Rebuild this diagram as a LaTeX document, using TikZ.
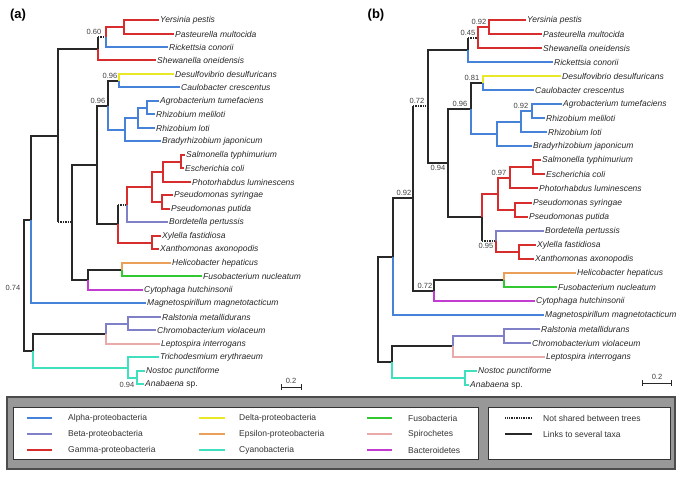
\documentclass[tikz,border=0pt]{standalone}
\usepackage{fontspec}
\setmainfont{Liberation Sans}
\usepackage{xcolor}
\usepackage{tikz}
\usetikzlibrary{positioning,calc}

\definecolor{alphacol}{RGB}{70,130,215}
\definecolor{betacol}{RGB}{128,128,200}
\definecolor{gammacol}{RGB}{215,45,45}
\definecolor{deltacol}{RGB}{232,232,40}
\definecolor{epsiloncol}{RGB}{235,160,90}
\definecolor{cyanocol}{RGB}{64,224,190}
\definecolor{fusocol}{RGB}{50,200,50}
\definecolor{spirocol}{RGB}{235,170,170}
\definecolor{bactcol}{RGB}{195,60,210}
\definecolor{linkcol}{RGB}{40,40,40}
\definecolor{boxgray}{RGB}{152,152,152}

\begin{document}
\begin{tikzpicture}[
  x=1pt, y=-1pt,
  branch/.style={line width=1.05pt},
  alphaline/.style={branch, draw=alphacol},
  betaline/.style={branch, draw=betacol},
  gammaline/.style={branch, draw=gammacol},
  deltaline/.style={branch, draw=deltacol},
  epsline/.style={branch, draw=epsiloncol},
  cyanoline/.style={branch, draw=cyanocol},
  fusoline/.style={branch, draw=fusocol},
  spiroline/.style={branch, draw=spirocol},
  bactline/.style={branch, draw=bactcol},
  several/.style={branch, draw=linkcol},
  notshared/.style={branch, draw=linkcol, dash pattern=on 1.4pt off 1pt},
  taxon/.style={anchor=west, inner sep=1pt,
    font=\fontsize{8.5}{10}\selectfont\itshape, text=black!85},
  supp/.style={inner sep=0.5pt, font=\fontsize{7.5}{9}\selectfont, text=black!75},
  panel/.style={inner sep=0pt, font=\fontsize{13}{15}\selectfont\bfseries},
  keyline/.style={line width=2pt},
  keytext/.style={anchor=west, inner sep=0pt,
    font=\fontsize{8.5}{10}\selectfont, text=black!80}
]
\useasboundingbox (0,0) rectangle (685,478);

% ---------- tree (a) ----------
\node[panel] (aPanel) at (18,15) {(a)};
\node[taxon] (aYer) at (159,20) {Yersinia pestis};
\node[taxon] (aPas) at (174,34) {Pasteurella multocida};
\node[taxon] (aRic) at (168,47) {Rickettsia conorii};
\node[taxon] (aShe) at (156,60) {Shewanella oneidensis};
\node[taxon] (aDes) at (174,74) {Desulfovibrio desulfuricans};
\node[taxon] (aCau) at (180,87) {Caulobacter crescentus};
\node[taxon] (aAgr) at (159,101) {Agrobacterium tumefaciens};
\node[taxon] (aRme) at (155,114) {Rhizobium meliloti};
\node[taxon] (aRlo) at (155,128) {Rhizobium loti};
\node[taxon] (aBra) at (161,141) {Bradyrhizobium japonicum};
\node[taxon] (aSal) at (185,155) {Salmonella typhimurium};
\node[taxon] (aEco) at (184,168) {Escherichia coli};
\node[taxon] (aPho) at (191,182) {Photorhabdus luminescens};
\node[taxon] (aPsy) at (173,195) {Pseudomonas syringae};
\node[taxon] (aPpu) at (170,209) {Pseudomonas putida};
\node[taxon] (aBor) at (168,222) {Bordetella pertussis};
\node[taxon] (aXyl) at (161,236) {Xylella fastidiosa};
\node[taxon] (aXan) at (159,249) {Xanthomonas axonopodis};
\node[taxon] (aHel) at (171,263) {Helicobacter hepaticus};
\node[taxon] (aFus) at (202,276) {Fusobacterium nucleatum};
\node[taxon] (aCyt) at (143,290) {Cytophaga hutchinsonii};
\node[taxon] (aMag) at (146,303) {Magnetospirillum magnetotacticum};
\node[taxon] (aRal) at (161,317) {Ralstonia metallidurans};
\node[taxon] (aChr) at (156,330) {Chromobacterium violaceum};
\node[taxon] (aLep) at (160,344) {Leptospira interrogans};
\node[taxon] (aTri) at (159,357) {Trichodesmium erythraeum};
\node[taxon] (aNos) at (145,371) {Nostoc punctiforme};
\node[taxon] (aAna) at (144,384) {Anabaena \textup{sp.}};

\coordinate (aG) at (124,27);
\coordinate (aF) at (106,37);
\coordinate (aD) at (98,49);
\coordinate (aJ) at (119,81);
\coordinate (aL) at (147,108);
\coordinate (aM) at (138,118);
\coordinate (aN) at (125,130);
\coordinate (aO) at (108,106);
\coordinate (aS1) at (181,162);
\coordinate (aS2) at (163,172);
\coordinate (aS3) at (162,202);
\coordinate (aS4) at (152,187);
\coordinate (aS5) at (127,205);
\coordinate (aS6) at (152,243);
\coordinate (aQ) at (118,224);
\coordinate (aP) at (97,165);
\coordinate (aT) at (122,270);
\coordinate (aI) at (88,280);
\coordinate (aE) at (72,222);
\coordinate (aC) at (58,136);
\coordinate (aA) at (31,220);
\coordinate (aW) at (128,324);
\coordinate (aU) at (106,334);
\coordinate (aX) at (137,378);
\coordinate (aV) at (128,368);
\coordinate (aB) at (33,351);
\coordinate (aR) at (24,286);

\draw[several] (aR) |- (aA);
\draw[several] (aR) |- (aB);
\draw[alphaline] (aA) |- (aMag.west);
\draw[several] (aA) |- (aC);
\draw[several] (aC) |- (aD);
\draw[several] (aC) -- (aC |- aE);
\draw[notshared] (aC |- aE) -- (aE);
\draw[gammaline] (aD) |- (aShe.west);
\draw[several] (aD) -- (aD |- aF);
\draw[notshared] (aD |- aF) -- (aF);
\draw[gammaline] (aF) |- (aG);
\draw[alphaline] (aF) |- (aRic.west);
\draw[gammaline] (aG) |- (aYer.west);
\draw[gammaline] (aG) |- (aPas.west);
\draw[several] (aE) |- (aP);
\draw[several] (aE) |- (aI);
\draw[several] (aP) |- (aO);
\draw[several] (aP) |- (aQ);
\draw[several] (aO) |- (aJ);
\draw[alphaline] (aO) |- (aN);
\draw[deltaline] (aJ) |- (aDes.west);
\draw[alphaline] (aJ) |- (aCau.west);
\draw[alphaline] (aN) |- (aM);
\draw[alphaline] (aN) |- (aBra.west);
\draw[alphaline] (aM) |- (aL);
\draw[alphaline] (aM) |- (aRlo.west);
\draw[alphaline] (aL) |- (aAgr.west);
\draw[alphaline] (aL) |- (aRme.west);
\draw[several] (aQ) -- (aQ |- aS5);
\draw[notshared] (aQ |- aS5) -- (aS5);
\draw[gammaline] (aQ) |- (aS6);
\draw[gammaline] (aS5) |- (aS4);
\draw[betaline] (aS5) |- (aBor.west);
\draw[gammaline] (aS4) |- (aS2);
\draw[gammaline] (aS4) |- (aS3);
\draw[gammaline] (aS2) |- (aS1);
\draw[gammaline] (aS2) |- (aPho.west);
\draw[gammaline] (aS1) |- (aSal.west);
\draw[gammaline] (aS1) |- (aEco.west);
\draw[gammaline] (aS3) |- (aPsy.west);
\draw[gammaline] (aS3) |- (aPpu.west);
\draw[gammaline] (aS6) |- (aXyl.west);
\draw[gammaline] (aS6) |- (aXan.west);
\draw[several] (aI) |- (aT);
\draw[bactline] (aI) |- (aCyt.west);
\draw[epsline] (aT) |- (aHel.west);
\draw[fusoline] (aT) |- (aFus.west);
\draw[several] (aB) |- (aU);
\draw[cyanoline] (aB) |- (aV);
\draw[betaline] (aU) |- (aW);
\draw[spiroline] (aU) |- (aLep.west);
\draw[betaline] (aW) |- (aRal.west);
\draw[betaline] (aW) |- (aChr.west);
\draw[cyanoline] (aV) |- (aTri.west);
\draw[cyanoline] (aV) |- (aX);
\draw[cyanoline] (aX) |- (aNos.west);
\draw[cyanoline] (aX) |- (aAna.west);

\node[supp, anchor=south east] (aFs) at (102,35) {0.60};
\node[supp, anchor=south east] (aJs) at (118,79) {0.96};
\node[supp, anchor=south east] (aOs) at (106,104) {0.96};
\node[supp, anchor=east] (aXs) at (135,385) {0.94};
\node[supp, anchor=east] (aRs) at (21,288) {0.74};

\node[supp] (aScale) at (291,380.5) {0.2};
\coordinate (aBarL) at (281,387);
\coordinate (aBarR) at (301,387);
\draw[several, line width=1pt] (aBarL) -- (aBarR)
  (aBarL) ++(0,-3) -- ++(0,6) (aBarR) ++(0,-3) -- ++(0,6);

% ---------- tree (b) ----------
\node[panel] (bPanel) at (376,15) {(b)};
\node[taxon] (bYer) at (526,20) {Yersinia pestis};
\node[taxon] (bPas) at (542,34) {Pasteurella multocida};
\node[taxon] (bShe) at (542,48) {Shewanella oneidensis};
\node[taxon] (bRic) at (553,62) {Rickettsia conorii};
\node[taxon] (bDes) at (561,76) {Desulfovibrio desulfuricans};
\node[taxon] (bCau) at (534,90) {Caulobacter crescentus};
\node[taxon] (bAgr) at (562,104) {Agrobacterium tumefaciens};
\node[taxon] (bRme) at (545,118) {Rhizobium meliloti};
\node[taxon] (bRlo) at (547,132) {Rhizobium loti};
\node[taxon] (bBra) at (532,146) {Bradyrhizobium japonicum};
\node[taxon] (bSal) at (541,160) {Salmonella typhimurium};
\node[taxon] (bEco) at (545,174) {Escherichia coli};
\node[taxon] (bPho) at (538,188) {Photorhabdus luminescens};
\node[taxon] (bPsy) at (532,203) {Pseudomonas syringae};
\node[taxon] (bPpu) at (528,217) {Pseudomonas putida};
\node[taxon] (bBor) at (544,231) {Bordetella pertussis};
\node[taxon] (bXyl) at (536,245) {Xylella fastidiosa};
\node[taxon] (bXan) at (534,259) {Xanthomonas axonopodis};
\node[taxon] (bHel) at (576,273) {Helicobacter hepaticus};
\node[taxon] (bFus) at (557,287) {Fusobacterium nucleatum};
\node[taxon] (bCyt) at (535,301) {Cytophaga hutchinsonii};
\node[taxon] (bMag) at (544,315) {Magnetospirillum magnetotacticum};
\node[taxon] (bRal) at (540,329) {Ralstonia metallidurans};
\node[taxon] (bChr) at (531,343) {Chromobacterium violaceum};
\node[taxon] (bLep) at (545,357) {Leptospira interrogans};
\node[taxon] (bNos) at (477,371) {Nostoc punctiforme};
\node[taxon] (bAna) at (469,385) {Anabaena \textup{sp.}};

\coordinate (bG) at (489,27);
\coordinate (bF) at (478,38);
\coordinate (bD) at (468,50);
\coordinate (bJ) at (483,83);
\coordinate (bL) at (532,111);
\coordinate (bM) at (521,122);
\coordinate (bN) at (497,134);
\coordinate (bO) at (471,109);
\coordinate (bS1) at (533,167);
\coordinate (bS2) at (510,178);
\coordinate (bS3) at (515,210);
\coordinate (bS4) at (498,194);
\coordinate (bS6) at (519,252);
\coordinate (bS7) at (496,241);
\coordinate (bS5) at (482,217);
\coordinate (bQ) at (448,163);
\coordinate (bC) at (428,106);
\coordinate (bT) at (504,280);
\coordinate (bY) at (434,291);
\coordinate (bZ) at (413,198);
\coordinate (bA) at (393,257);
\coordinate (bW) at (504,336);
\coordinate (bU) at (453,346);
\coordinate (bX) at (465,378);
\coordinate (bB) at (392,362);
\coordinate (bR) at (378,310);

\draw[several] (bR) |- (bA);
\draw[several] (bR) |- (bB);
\draw[alphaline] (bA) |- (bMag.west);
\draw[several] (bA) |- (bZ);
\draw[several] (bZ) -- (bZ |- bC);
\draw[notshared] (bZ |- bC) -- (bC);
\draw[several] (bZ) |- (bY);
\draw[several] (bC) |- (bD);
\draw[several] (bC) |- (bQ);
\draw[several] (bD) -- (bD |- bF);
\draw[notshared] (bD |- bF) -- (bF);
\draw[alphaline] (bD) |- (bRic.west);
\draw[gammaline] (bF) |- (bG);
\draw[gammaline] (bF) |- (bShe.west);
\draw[gammaline] (bG) |- (bYer.west);
\draw[gammaline] (bG) |- (bPas.west);
\draw[several] (bQ) |- (bO);
\draw[several] (bQ) |- (bS5);
\draw[several] (bO) |- (bJ);
\draw[alphaline] (bO) |- (bN);
\draw[deltaline] (bJ) |- (bDes.west);
\draw[alphaline] (bJ) |- (bCau.west);
\draw[alphaline] (bN) |- (bM);
\draw[alphaline] (bN) |- (bBra.west);
\draw[alphaline] (bM) |- (bL);
\draw[alphaline] (bM) |- (bRlo.west);
\draw[alphaline] (bL) |- (bAgr.west);
\draw[alphaline] (bL) |- (bRme.west);
\draw[gammaline] (bS5) |- (bS4);
\draw[several] (bS5) -- (bS5 |- bS7);
\draw[notshared] (bS5 |- bS7) -- (bS7);
\draw[gammaline] (bS4) |- (bS2);
\draw[gammaline] (bS4) |- (bS3);
\draw[gammaline] (bS2) |- (bS1);
\draw[gammaline] (bS2) |- (bPho.west);
\draw[gammaline] (bS1) |- (bSal.west);
\draw[gammaline] (bS1) |- (bEco.west);
\draw[gammaline] (bS3) |- (bPsy.west);
\draw[gammaline] (bS3) |- (bPpu.west);
\draw[betaline] (bS7) |- (bBor.west);
\draw[gammaline] (bS7) |- (bS6);
\draw[gammaline] (bS6) |- (bXyl.west);
\draw[gammaline] (bS6) |- (bXan.west);
\draw[several] (bY) |- (bT);
\draw[bactline] (bY) |- (bCyt.west);
\draw[epsline] (bT) |- (bHel.west);
\draw[fusoline] (bT) |- (bFus.west);
\draw[several] (bB) |- (bU);
\draw[cyanoline] (bB) |- (bX);
\draw[betaline] (bU) |- (bW);
\draw[spiroline] (bU) |- (bLep.west);
\draw[betaline] (bW) |- (bRal.west);
\draw[betaline] (bW) |- (bChr.west);
\draw[cyanoline] (bX) |- (bNos.west);
\draw[cyanoline] (bX) |- (bAna.west);

\node[supp, anchor=south east] (bGs) at (487,25) {0.92};
\node[supp, anchor=south east] (bFs) at (476,36) {0.45};
\node[supp, anchor=south east] (bJs) at (480,81) {0.81};
\node[supp, anchor=south east] (bLs) at (529,109) {0.92};
\node[supp, anchor=south east] (bOs) at (468,107) {0.96};
\node[supp, anchor=south east] (bCs) at (425,104) {0.72};
\node[supp, anchor=north east] (bQs) at (446,165) {0.94};
\node[supp, anchor=south east] (bS2s) at (507,176) {0.97};
\node[supp, anchor=north east] (bS7s) at (494,243) {0.95};
\node[supp, anchor=south east] (bYs) at (433,289) {0.72};
\node[supp, anchor=south east] (bZs) at (412,196) {0.92};

\node[supp] (bScale) at (657,377) {0.2};
\coordinate (bBarL) at (642,383);
\coordinate (bBarR) at (671,383);
\draw[several, line width=1pt] (bBarL) -- (bBarR)
  (bBarL) ++(0,-3) -- ++(0,6) (bBarR) ++(0,-3) -- ++(0,6);

% ---------- legend ----------
\draw[line width=1.6pt, draw=black!70, fill=boxgray] (7,397) rectangle (675,469);
\draw[line width=1pt, draw=black!80, fill=white] (13,407.5) rectangle (478,459);
\draw[line width=1pt, draw=black!80, fill=white] (488,407.5) rectangle (670,459);

\node[keytext] (kAlp) at (68,418) {Alpha-proteobacteria};
\node[keytext] (kBet) at (68,434) {Beta-proteobacteria};
\node[keytext] (kGam) at (68,450) {Gamma-proteobacteria};
\node[keytext] (kDel) at (239,418) {Delta-proteobacteria};
\node[keytext] (kEps) at (239,434) {Epsilon-proteobacteria};
\node[keytext] (kCya) at (239,450) {Cyanobacteria};
\node[keytext] (kFus) at (408,418) {Fusobacteria};
\node[keytext] (kSpi) at (408,434) {Spirochetes};
\node[keytext] (kBac) at (408,450) {Bacteroidetes};
\node[keytext] (kNot) at (543,418) {Not shared between trees};
\node[keytext] (kLin) at (543,434) {Links to several taxa};

\draw[keyline, draw=alphacol] ([xshift=-16pt]kAlp.west) -- +(-25pt,0);
\draw[keyline, draw=betacol] ([xshift=-16pt]kBet.west) -- +(-25pt,0);
\draw[keyline, draw=gammacol] ([xshift=-16pt]kGam.west) -- +(-25pt,0);
\draw[keyline, draw=deltacol] ([xshift=-14pt]kDel.west) -- +(-26pt,0);
\draw[keyline, draw=epsiloncol] ([xshift=-14pt]kEps.west) -- +(-26pt,0);
\draw[keyline, draw=cyanocol] ([xshift=-14pt]kCya.west) -- +(-26pt,0);
\draw[keyline, draw=fusocol] ([xshift=-16pt]kFus.west) -- +(-25pt,0);
\draw[keyline, draw=spirocol] ([xshift=-16pt]kSpi.west) -- +(-25pt,0);
\draw[keyline, draw=bactcol] ([xshift=-16pt]kBac.west) -- +(-25pt,0);
\draw[notshared, line width=1.1pt] ([xshift=-11pt]kNot.west) -- +(-27pt,0);
\draw[several, line width=1.2pt] ([xshift=-11pt]kLin.west) -- +(-27pt,0);
\end{tikzpicture}
\end{document}
